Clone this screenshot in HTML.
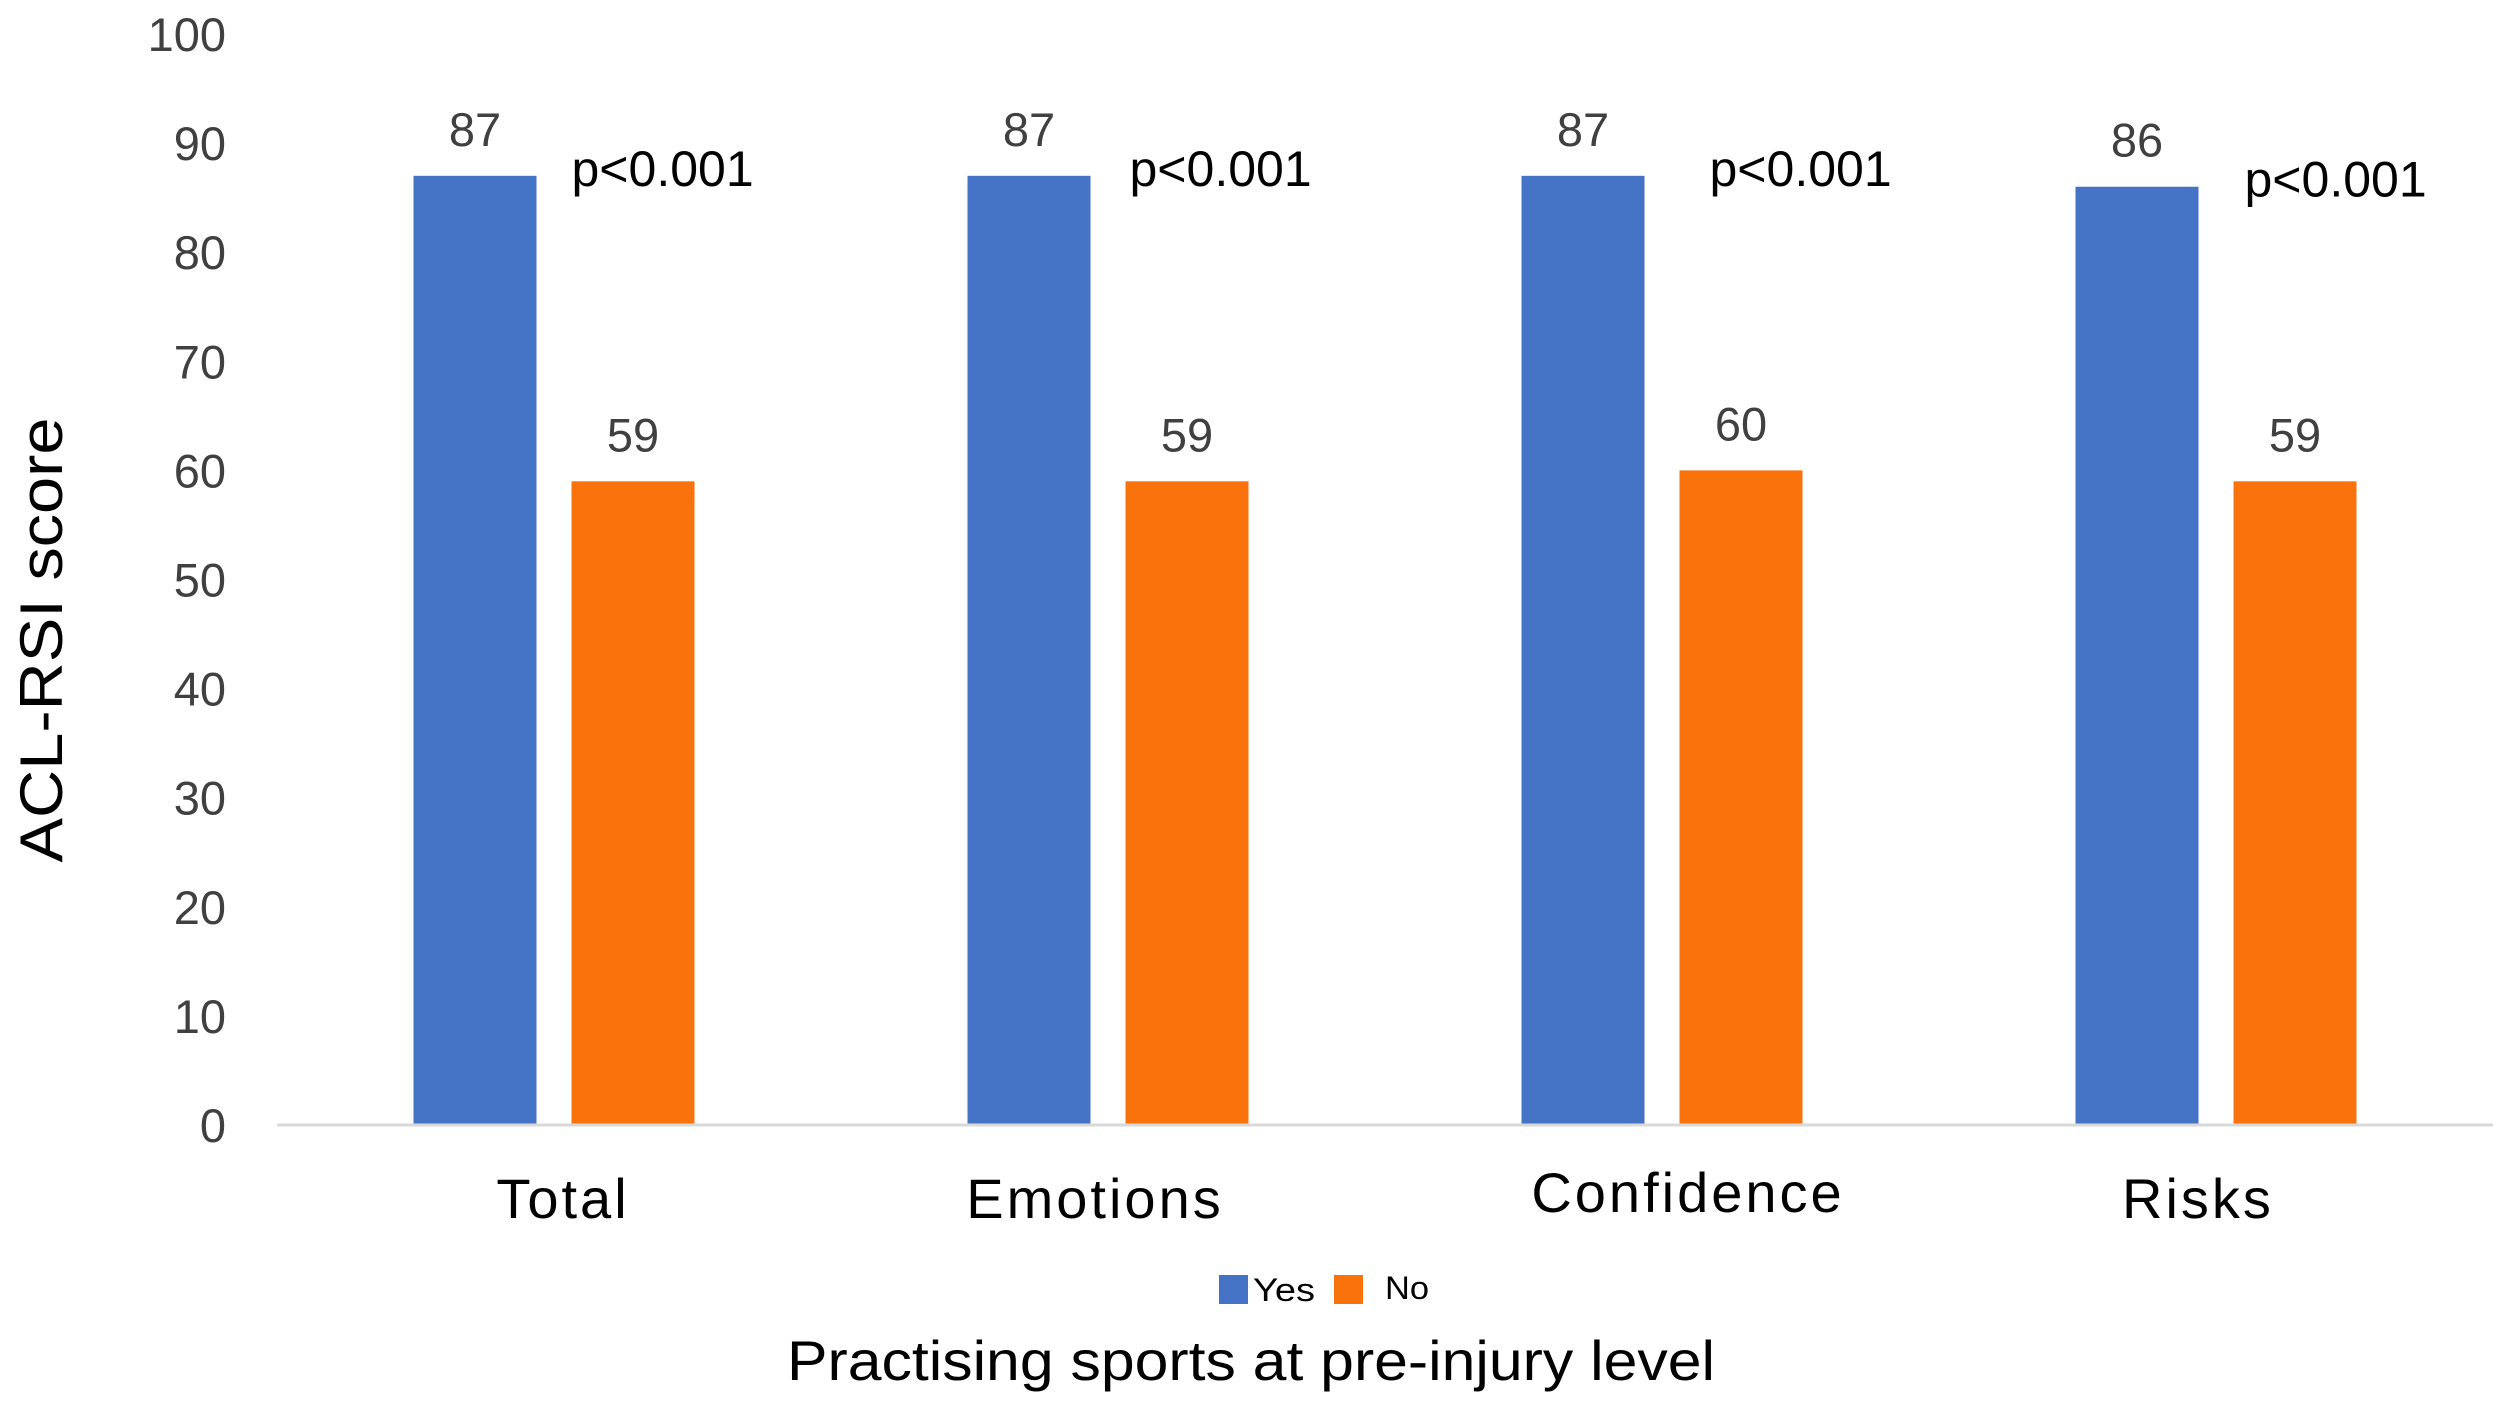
<!DOCTYPE html>
<html><head><meta charset="utf-8"><style>
html,body{margin:0;padding:0;background:#fff;}
svg{display:block;}
text{font-family:"Liberation Sans",sans-serif;}
</style></head><body>
<svg id="chart" width="2508" height="1402" viewBox="0 0 2508 1402" xmlns="http://www.w3.org/2000/svg">
<g id="ticks"></g>
<g id="bars"></g>
<line x1="277" y1="1125" x2="2493" y2="1125" stroke="#d9d9d9" stroke-width="3"/>
<text transform="translate(62,640) rotate(-90)" text-anchor="middle" font-size="60" textLength="445" lengthAdjust="spacingAndGlyphs" fill="#000">ACL-RSI score</text>
<g>
<rect x="1219" y="1275" width="29" height="29" fill="#4472c4"/>
<text x="1253" y="1301" font-size="32" textLength="62" lengthAdjust="spacingAndGlyphs">Yes</text>
<rect x="1334" y="1275" width="29" height="29" fill="#fa720c"/>
<text x="1385" y="1299" font-size="32" textLength="44" lengthAdjust="spacingAndGlyphs">No</text>
</g>
<text x="1251" y="1380" text-anchor="middle" font-size="56" textLength="928" lengthAdjust="spacingAndGlyphs" fill="#000">Practising sports at pre-injury level</text>
</svg>
<script>
const categories = ["Total","Emotions","Confidence","Risks"];
const yesValues = [87,87,87,86];
const noValues = [59,59,60,59];
const pLabels = ["p<0.001","p<0.001","p<0.001","p<0.001"];
const yTicks = [0,10,20,30,40,50,60,70,80,90,100];

const NS="http://www.w3.org/2000/svg";
const x0=277, x1=2493, yBase=1125, yTop=34;
const yScale=v=>yBase-(v/100)*(yBase-yTop);
const band=(x1-x0)/categories.length;
const xCenter=i=>x0+band*(i+0.5);
const labelDx=[9,-13,26,-18];
const labelDy=[0,0,-6,0];
const pDx=[0,4,30,11];
function mk(tag,attrs,parent,txt){const e=document.createElementNS(NS,tag);for(const k in attrs)e.setAttribute(k,attrs[k]);if(txt!==undefined)e.textContent=txt;parent.appendChild(e);return e;}
const tg=document.getElementById('ticks');
yTicks.forEach(t=>{
  const e=mk('text',{x:226,y:yScale(t)+17,'text-anchor':'end','font-size':47,fill:'#404040'},tg,String(t));
  
  
});
const bg=document.getElementById('bars');
const bw=123, gap=35;
categories.forEach((c,i)=>{
  const cx=xCenter(i);
  const by=mk('rect',{x:cx-gap/2-bw,y:yScale(yesValues[i]),width:bw,height:yBase-yScale(yesValues[i]),fill:'#4472c4'},bg);
  
  
  const bn=mk('rect',{x:cx+gap/2,y:yScale(noValues[i]),width:bw,height:yBase-yScale(noValues[i]),fill:'#fa720c'},bg);
  
  
  const ly=mk('text',{x:cx-gap/2-bw/2,y:yScale(yesValues[i])-30,'text-anchor':'middle','font-size':47,fill:'#404040'},bg,String(yesValues[i]));
  
  
  const ln=mk('text',{x:cx+gap/2+bw/2,y:yScale(noValues[i])-30,'text-anchor':'middle','font-size':47,fill:'#404040'},bg,String(noValues[i]));
  
  
  const pl=mk('text',{x:cx+gap/2+pDx[i],y:yScale(yesValues[i])+10,'font-size':50,fill:'#000'},bg,pLabels[i]);
  
  
  const cl=mk('text',{x:cx+labelDx[i],y:1218+labelDy[i],'text-anchor':'middle','font-size':56,'letter-spacing':3,fill:'#000'},bg,c);
  
  
});
</script>
</body></html>
